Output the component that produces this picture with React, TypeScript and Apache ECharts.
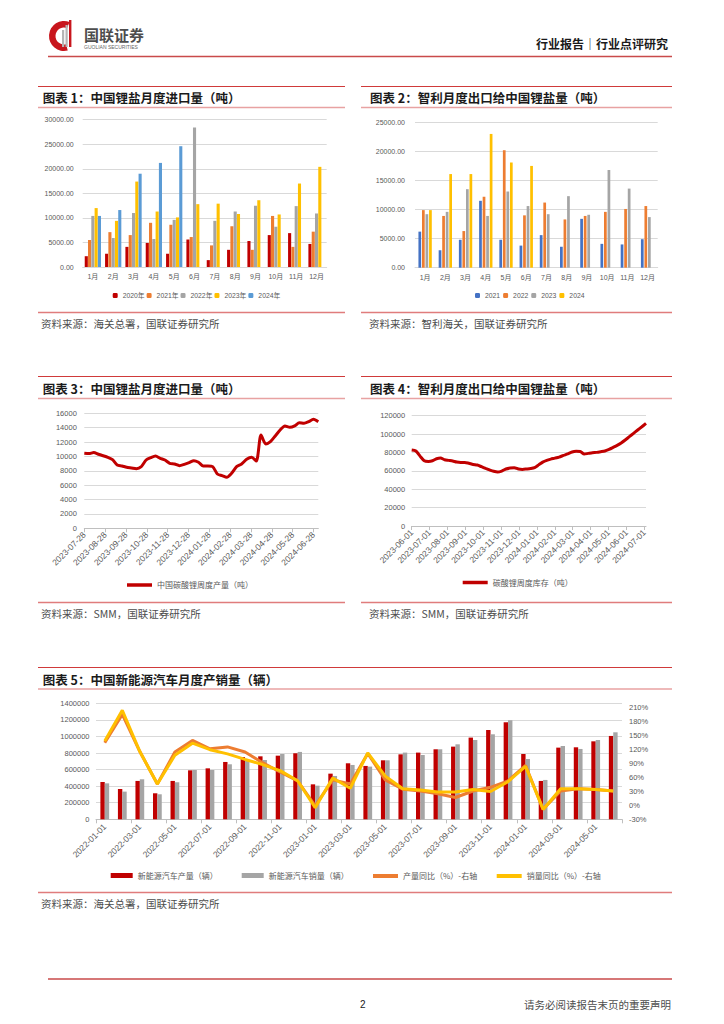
import React, { useEffect, useRef } from 'react';
import * as echarts from 'echarts';

// ---------- Chart 1: 中国锂盐月度进口量（吨） ----------
const months = ['1月', '2月', '3月', '4月', '5月', '6月', '7月', '8月', '9月', '10月', '11月', '12月'];
const imp2020 = [2200, 2700, 4100, 4900, 2700, 5600, 1400, 3500, 5300, 6500, 6900, 4700];
const imp2021 = [5500, 7100, 6500, 9000, 8600, 6100, 4400, 8300, 3500, 10400, 4100, 7200];
const imp2022 = [10400, 5900, 11000, 5700, 9600, 28400, 9400, 11300, 12500, 8200, 12400, 10900];
const imp2023 = [12000, 9400, 17400, 11300, 10100, 12800, 12900, 10800, 13600, 10700, 17000, 20400];
const imp2024 = [10400, 11600, 19000, 21200, 24600];

// ---------- Chart 2: 智利月度出口给中国锂盐量（吨） ----------
const chile2021 = [6200, 3000, 4800, 11500, 4800, 3800, 5600, 3600, 8400, 4100, 4000, 4900];
const chile2022 = [9900, 8900, 6300, 12200, 20200, 9000, 11200, 8300, 8900, 9600, 10100, 10600];
const chile2023 = [9200, 9600, 13500, 8900, 13100, 10600, 9200, 12300, 9100, 16800, 13600, 8700];
const chile2024 = [9900, 16100, 16100, 23000, 18100, 17500];

// ---------- Chart 3: 中国碳酸锂周度产量（吨），weekly from 2023-07-28 ----------
const prodWeekly = [10430, 10390, 10530, 10300, 10100, 9880, 9550, 8800, 8670, 8490, 8400, 8300, 8580, 9500, 9830, 10060, 9740, 9500, 9040, 8950, 8720, 8900, 9140, 9410, 9180, 8670, 8670, 8580, 7560, 7330, 7100, 7650, 8580, 8950, 9600, 9880, 9370, 12990, 11730, 12060, 12850, 13680, 14240, 14050, 14240, 14700, 14610, 14840, 15170, 14840];

// ---------- Chart 4: 碳酸锂周度库存（吨），weekly from 2023-06-01 ----------
const invWeekly = [82600, 81500, 76000, 71000, 70300, 71000, 73200, 74000, 72100, 71400, 70700, 69600, 69200, 69200, 68200, 67000, 66300, 64500, 62700, 61000, 59500, 58700, 59800, 62000, 63000, 63400, 62000, 61600, 62000, 62500, 63500, 66500, 69500, 71500, 72800, 73800, 75000, 76800, 78500, 80500, 81200, 81000, 78300, 79000, 79700, 80100, 80800, 81600, 83400, 85500, 87700, 90300, 93500, 97200, 100800, 104400, 108000, 111600];

// ---------- Chart 5: 中国新能源汽车月度产销量（辆） ----------
const nevProd = [450000, 366000, 463000, 314000, 463000, 591000, 615000, 692000, 752000, 760000, 768000, 797000, 422000, 551000, 676000, 644000, 712000, 784000, 805000, 845000, 877000, 986000, 1078000, 1171000, 788000, 463000, 865000, 869000, 941000, 1006000];
const nevSales = [434000, 334000, 483000, 302000, 447000, 595000, 595000, 664000, 712000, 716000, 788000, 813000, 406000, 523000, 656000, 636000, 712000, 805000, 776000, 845000, 905000, 957000, 1026000, 1195000, 728000, 475000, 885000, 849000, 957000, 1050000];
const nevProdYoy = [135, 196, 116, 46, 115, 140, 122, 126, 115, 92, 72, 53, -1, 55, 46, 112, 55, 35, 31, 25, 17, 31, 39, 53, 86, -8, 31, 36, 34, 31];
const nevSalesYoy = [139, 205, 116, 46, 108, 134, 120, 111, 99, 88, 75, 53, -5, 59, 37, 113, 63, 36, 33, 29, 29, 34, 30, 51, 84, -9, 36, 36, 34, 31];

// ---------- helpers ----------
const pad = (n: number) => (n < 10 ? '0' : '') + n;
const fmtDate = (t: number) => {
  const d = new Date(t);
  return d.getFullYear() + '-' + pad(d.getMonth() + 1) + '-' + pad(d.getDate());
};
const monthTicks = (y: number, m: number, d: number, n: number) => {
  const r: number[] = [];
  for (let k = 0; k < n; k++) r.push(new Date(y, m - 1 + k, d).getTime());
  return r;
};
// position of a date on a month-tick axis (tick k = integer k)
const monthPos = (t: number, ticks: number[]) => {
  for (let k = 0; k < ticks.length - 1; k++) {
    if (t <= ticks[k + 1]) return k + (t - ticks[k]) / (ticks[k + 1] - ticks[k]);
  }
  return ticks.length - 1;
};
const weeklyOnMonthAxis = (y: number, m: number, d: number, vals: number[], ticks: number[]) =>
  vals.map((v, i) => [monthPos(new Date(y, m - 1, d + 7 * i).getTime(), ticks), v]);

const nevMonths: string[] = [];
for (let i = 0; i < nevProd.length; i++) {
  const y = 2022 + Math.floor(i / 12);
  const m = (i % 12) + 1;
  nevMonths.push(y + '-' + pad(m) + '-01');
}

const ticks3 = monthTicks(2023, 7, 28, 13); // 2023-07-28 ... 2024-07-28
const ticks4 = monthTicks(2023, 6, 1, 15); // 2023-06-01 ... 2024-08-01
const data3 = weeklyOnMonthAxis(2023, 7, 28, prodWeekly, ticks3);
const data4 = weeklyOnMonthAxis(2023, 6, 1, invWeekly, ticks4);

const LAT = '"Liberation Sans", "Noto Sans CJK SC", sans-serif';
const CJK = '"Noto Sans CJK SC", sans-serif';
const LBL = '#595959';
const GRID = '#D9D9D9';

const C_RED = '#C00000';
const C_ORG = '#ED7D31';
const C_GRY = '#A5A5A5';
const C_YEL = '#FFC000';
const C_BLU = '#5B9BD5';
const C_BLU2 = '#4472C4';

const plain = (v: number) => String(v);

const hline = (x1: number, x2: number, y: number, color: string, w: number) => ({
  type: 'line',
  silent: true,
  shape: { x1, y1: y, x2, y2: y },
  style: { stroke: color, lineWidth: w },
});
const txt = (x: number, y: number, text: string, font: string, fill: string, align = 'left') => ({
  type: 'text',
  silent: true,
  x,
  y,
  style: { text, font, fill, align, textAlign: align, verticalAlign: 'middle', textVerticalAlign: 'middle' },
});

const TITLE_FONT = 'bold 12.5px "Noto Sans CJK SC", sans-serif';
const SRC_FONT = '10.5px "Noto Sans CJK SC", sans-serif';
const SRC_COLOR = '#4D4D4D';
const TOP_RED = '#D03A3A';
const PINK = '#E8A2A2';
const BOT = '#E07C7C';

const valueAxisBase = (gridIndex: number, min: number, max: number, interval: number, margin: number, fmt: any, fs = 7) => ({
  type: 'value',
  gridIndex,
  min,
  max,
  interval,
  axisLine: { show: false },
  axisTick: { show: false },
  splitLine: { lineStyle: { color: GRID, width: 1 } },
  axisLabel: { fontSize: fs, color: LBL, margin, fontFamily: LAT, formatter: fmt },
});

const catAxisBase = (gridIndex: number, data: string[]) => ({
  type: 'category',
  gridIndex,
  data,
  axisLine: { lineStyle: { color: GRID } },
  axisTick: { show: false },
  axisLabel: { fontSize: 7, color: LBL, margin: 6, fontFamily: LAT },
});

const monthAxis = (gridIndex: number, max: number, ticks: number[]) => ({
  type: 'value',
  gridIndex,
  min: 0,
  max,
  interval: 1,
  splitLine: { show: false },
  axisLine: { show: true, onZero: false, lineStyle: { color: '#BFBFBF' } },
  axisTick: { show: true, length: 4, lineStyle: { color: '#BFBFBF' } },
  axisLabel: {
    rotate: 45,
    fontSize: 8.5,
    color: LBL,
    margin: 5,
    fontFamily: LAT,
    showMaxLabel: false,
    hideOverlap: false,
    formatter: (v: number) => (Math.abs(v - Math.round(v)) < 1e-6 ? fmtDate(ticks[Math.round(v)]) : ''),
  },
});

const bar = (name: string, data: number[], color: string, xi: number, yi: number, gap: string, catGap: string) => ({
  type: 'bar',
  name,
  data,
  xAxisIndex: xi,
  yAxisIndex: yi,
  itemStyle: { color },
  barGap: gap,
  barCategoryGap: catGap,
});

const legendBase = (data: any[], left: number, top: number, extra: any = {}) => ({
  data,
  left,
  top,
  padding: 0,
  orient: 'horizontal',
  selectedMode: false,
  textStyle: { fontSize: 7, color: LBL, fontFamily: LAT },
  ...extra,
});

function buildOption() {
  const graphic: any[] = [
    // header logo
    {
      type: 'sector',
      silent: true,
      shape: { cx: 64, cy: 36, r: 15, r0: 8.5, startAngle: Math.PI * 0.42, endAngle: Math.PI * 1.62, clockwise: true },
      style: { fill: '#C8161D' },
    },
    { type: 'rect', silent: true, shape: { x: 62, y: 30, width: 2.2, height: 17 }, style: { fill: '#B5B5B5' } },
    { type: 'rect', silent: true, shape: { x: 65.5, y: 25, width: 2.2, height: 22 }, style: { fill: '#B5B5B5' } },
    { type: 'rect', silent: true, shape: { x: 69, y: 20, width: 2.4, height: 27 }, style: { fill: '#C8161D' } },
    txt(84, 34, '国联证券', 'bold 15px "Noto Sans CJK SC", sans-serif', '#4D4D4D'),
    txt(84, 46.5, 'GUOLIAN SECURITIES', '5px "Liberation Sans", sans-serif', '#666666'),
    txt(668, 43, '行业报告｜行业点评研究', 'bold 12px "Noto Sans CJK SC", sans-serif', '#1A1A1A', 'right'),
    hline(48, 672, 56.5, '#C94A4A', 1.5),

    // chart 1 frame
    hline(38, 345, 86.5, TOP_RED, 1),
    txt(42.7, 97.7, '图表 1：中国锂盐月度进口量（吨）', TITLE_FONT, '#1A1A1A'),
    hline(38, 345, 107.5, PINK, 1.5),
    hline(38, 345, 312.5, BOT, 1.5),
    txt(41, 323, '资料来源：海关总署，国联证券研究所', SRC_FONT, SRC_COLOR),

    // chart 2 frame
    hline(361, 672, 86.5, TOP_RED, 1),
    txt(370, 97.7, '图表 2：智利月度出口给中国锂盐量（吨）', TITLE_FONT, '#1A1A1A'),
    hline(361, 672, 107.5, PINK, 1.5),
    hline(361, 672, 312.5, BOT, 1.5),
    txt(369, 323, '资料来源：智利海关，国联证券研究所', SRC_FONT, SRC_COLOR),

    // chart 3 frame
    hline(38, 345, 376.5, TOP_RED, 1),
    txt(42.7, 388.3, '图表 3：中国锂盐月度进口量（吨）', TITLE_FONT, '#1A1A1A'),
    hline(38, 345, 398.5, PINK, 1.5),
    hline(38, 345, 602.5, BOT, 1.5),
    txt(41, 613, '资料来源：SMM，国联证券研究所', SRC_FONT, SRC_COLOR),

    // chart 4 frame
    hline(361, 672, 376.5, TOP_RED, 1),
    txt(370, 388.3, '图表 4：智利月度出口给中国锂盐量（吨）', TITLE_FONT, '#1A1A1A'),
    hline(361, 672, 398.5, PINK, 1.5),
    hline(361, 672, 602.5, BOT, 1.5),
    txt(369, 613, '资料来源：SMM，国联证券研究所', SRC_FONT, SRC_COLOR),

    // chart 5 frame
    hline(38, 672, 667.5, TOP_RED, 1),
    txt(42.7, 679, '图表 5：中国新能源汽车月度产销量（辆）', TITLE_FONT, '#1A1A1A'),
    hline(38, 672, 689, PINK, 1.5),
    hline(38, 672, 892.5, BOT, 1.5),
    txt(41, 903, '资料来源：海关总署，国联证券研究所', SRC_FONT, SRC_COLOR),

    // footer
    hline(48, 672, 979, '#C94A4A', 1.5),
    txt(362.7, 1004, '2', '10px "Liberation Sans", sans-serif', '#1A1A1A', 'center'),
    txt(671, 1004, '请务必阅读报告末页的重要声明', '10.5px "Noto Sans CJK SC", sans-serif', SRC_COLOR, 'right'),
  ];

  return {
    animation: false,
    backgroundColor: '#FFFFFF',
    textStyle: { fontFamily: LAT },
    graphic,
    grid: [
      { left: 82.7, top: 119.7, width: 244, height: 147.3 },
      { left: 415, top: 122.3, width: 242.7, height: 145.4 },
      { left: 84.3, top: 413.3, width: 234, height: 115 },
      { left: 411.7, top: 415.7, width: 234.3, height: 110.3 },
      { left: 96, top: 703.3, width: 526, height: 116 },
    ],
    xAxis: [
      catAxisBase(0, months),
      catAxisBase(1, months),
      monthAxis(2, data3[data3.length - 1][0], ticks3),
      monthAxis(3, data4[data4.length - 1][0], ticks4),
      {
        type: 'category',
        gridIndex: 4,
        data: nevMonths,
        axisLine: { lineStyle: { color: '#BFBFBF' } },
        axisTick: { show: true, interval: 1, length: 4, lineStyle: { color: '#BFBFBF' } },
        axisLabel: { interval: 1, rotate: 45, fontSize: 8.5, color: LBL, margin: 6, fontFamily: LAT },
      },
    ],
    yAxis: [
      valueAxisBase(0, 0, 30000, 5000, 9, (v: number) => v.toFixed(2)),
      valueAxisBase(1, 0, 25000, 5000, 10, (v: number) => v.toFixed(2)),
      valueAxisBase(2, 0, 16000, 2000, 7.5, plain, 7.5),
      valueAxisBase(3, 0, 120000, 20000, 6.5, plain, 7.5),
      valueAxisBase(4, 0, 1400000, 200000, 6.5, plain, 7.5),
      {
        type: 'value',
        gridIndex: 4,
        position: 'right',
        min: -30,
        max: 220,
        interval: 30,
        axisLine: { show: false },
        axisTick: { show: false },
        splitLine: { show: false },
        axisLabel: { fontSize: 7.5, color: LBL, margin: 7, fontFamily: LAT, formatter: '{value}%', showMaxLabel: false },
      },
    ],
    legend: [
      legendBase(['2020年', '2021年', '2022年', '2023年', '2024年'], 112.7, 292, {
        itemWidth: 5, itemHeight: 5, itemGap: 2, textStyle: { fontSize: 6.8, color: LBL, fontFamily: LAT },
      }),
      legendBase(['2021', '2022', '2023', '2024'], 475, 292, {
        itemWidth: 5, itemHeight: 5, itemGap: 3, textStyle: { fontSize: 6.8, color: LBL, fontFamily: LAT },
      }),
      legendBase([{ name: '中国碳酸锂周度产量（吨）', icon: 'rect' }], 127, 581, {
        itemWidth: 25, itemHeight: 3.5, textStyle: { fontSize: 8, color: LBL, fontFamily: CJK },
      }),
      legendBase([{ name: '碳酸锂周度库存（吨）', icon: 'rect' }], 462.7, 578.5, {
        itemWidth: 25, itemHeight: 3.5, textStyle: { fontSize: 8, color: LBL, fontFamily: CJK },
      }),
      legendBase([{ name: '新能源汽车产量（辆）', icon: 'rect' }], 110.7, 871.5, {
        itemWidth: 22, itemHeight: 5, textStyle: { fontSize: 8, color: LBL, fontFamily: CJK },
      }),
      legendBase([{ name: '新能源汽车销量（辆）', icon: 'rect' }], 241.7, 871.5, {
        itemWidth: 22, itemHeight: 5, textStyle: { fontSize: 8, color: LBL, fontFamily: CJK },
      }),
      legendBase([{ name: '产量同比（%）-右轴', icon: 'rect' }], 373, 872, {
        itemWidth: 25, itemHeight: 4, textStyle: { fontSize: 8, color: LBL, fontFamily: CJK },
      }),
      legendBase([{ name: '销量同比（%）-右轴', icon: 'rect' }], 496.7, 872, {
        itemWidth: 25, itemHeight: 4, textStyle: { fontSize: 8, color: LBL, fontFamily: CJK },
      }),
    ],
    series: [
      bar('2020年', imp2020, C_RED, 0, 0, '6%', '20%'),
      bar('2021年', imp2021, C_ORG, 0, 0, '6%', '20%'),
      bar('2022年', imp2022, C_GRY, 0, 0, '6%', '20%'),
      bar('2023年', imp2023, C_YEL, 0, 0, '6%', '20%'),
      bar('2024年', imp2024, C_BLU, 0, 0, '6%', '20%'),

      bar('2021', chile2021, C_BLU2, 1, 1, '30%', '34%'),
      bar('2022', chile2022, C_ORG, 1, 1, '30%', '34%'),
      bar('2023', chile2023, C_GRY, 1, 1, '30%', '34%'),
      bar('2024', chile2024, C_YEL, 1, 1, '30%', '34%'),

      {
        type: 'line',
        name: '中国碳酸锂周度产量（吨）',
        xAxisIndex: 2,
        yAxisIndex: 2,
        data: data3,
        symbol: 'none',
        smooth: 0.25,
        lineStyle: { color: C_RED, width: 3 },
        itemStyle: { color: C_RED },
      },
      {
        type: 'line',
        name: '碳酸锂周度库存（吨）',
        xAxisIndex: 3,
        yAxisIndex: 3,
        data: data4,
        symbol: 'none',
        smooth: 0.25,
        lineStyle: { color: C_RED, width: 3 },
        itemStyle: { color: C_RED },
      },

      bar('新能源汽车产量（辆）', nevProd, C_RED, 4, 4, '0%', '50%'),
      bar('新能源汽车销量（辆）', nevSales, C_GRY, 4, 4, '0%', '50%'),
      {
        type: 'line',
        name: '产量同比（%）-右轴',
        xAxisIndex: 4,
        yAxisIndex: 5,
        data: nevProdYoy,
        symbol: 'none',
        lineStyle: { color: C_ORG, width: 3 },
        itemStyle: { color: C_ORG },
      },
      {
        type: 'line',
        name: '销量同比（%）-右轴',
        xAxisIndex: 4,
        yAxisIndex: 5,
        data: nevSalesYoy,
        symbol: 'none',
        lineStyle: { color: C_YEL, width: 3 },
        itemStyle: { color: C_YEL },
      },
    ],
  };
}

export default function App() {
  const ref = useRef<HTMLDivElement>(null);
  useEffect(() => {
    document.body.style.margin = '0';
    if (!ref.current) return;
    const chart = echarts.init(ref.current, undefined, { renderer: 'svg', width: 724, height: 1024 });
    chart.setOption(buildOption() as any);
    return () => {
      chart.dispose();
    };
  }, []);
  return (
    <div
      ref={ref}
      style={{ position: 'absolute', left: 0, top: 0, width: 724, height: 1024, background: '#fff' }}
    />
  );
}
